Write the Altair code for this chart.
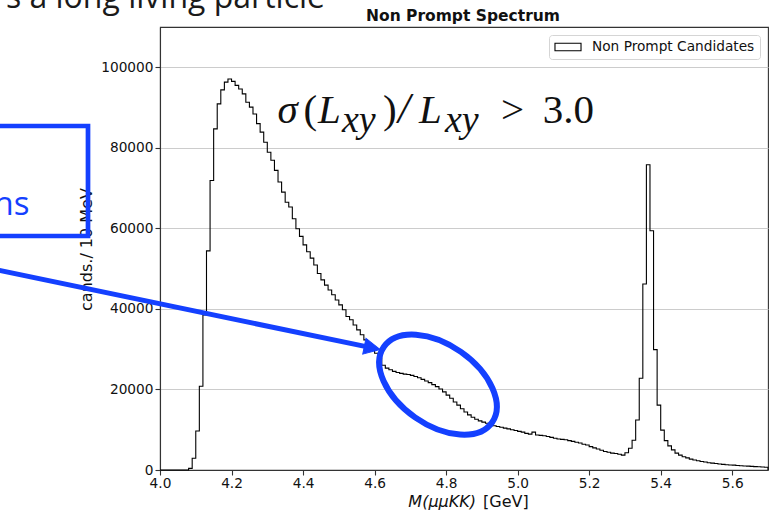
import altair as alt
import numpy as np
import pandas as pd

# ---------------- data ----------------
BIN_WIDTH = 0.01
X_MIN, X_MAX = 4.0, 5.7
SERIES = "Non Prompt Candidates"
X_TICKS = [4.0, 4.2, 4.4, 4.6, 4.8, 5.0, 5.2, 5.4, 5.6]
Y_TICKS = [0, 20000, 40000, 60000, 80000, 100000]

COUNTS_400_449 = [0, 0, 0, 0, 0, 0, 0, 0, 400, 2900,
                  9700, 20800, 38500, 54400, 71900, 84700, 90900, 94400, 96300, 97100,
                  96500, 95500, 94600, 93400, 91300, 90100, 88400, 86000, 83900, 81400,
                  78900, 76900, 74400, 71500, 69000, 66500, 65300, 62400, 59900, 58000,
                  55900, 54200, 52600, 50900, 48800, 47200, 45900, 44700, 43500, 42200]
COUNTS_450_499 = [41000, 39800, 38100, 37300, 36000, 34800, 33600, 32300, 31100, 29800,
                  29000, 27800, 26000, 25300, 24900, 24500, 24200, 24000, 23800, 23700,
                  23500, 23200, 22900, 22500, 22100, 21700, 21200, 20700, 20100, 19400,
                  18600, 17800, 16900, 16100, 15200, 14400, 13700, 13100, 12600, 12200,
                  11900, 11600, 11300, 11000, 10800, 10600, 10400, 10200, 10000, 9800]
COUNTS_500_549 = [9600, 9400, 9100, 8900, 9400, 8700, 8600, 8500, 8300, 8100,
                  7900, 7700, 7600, 7500, 7300, 7100, 6900, 6700, 6400, 6200,
                  5800, 5500, 5200, 4900, 4600, 4400, 4200, 4100, 3900, 3700,
                  4300, 5400, 7400, 12400, 22800, 46200, 75800, 59400, 29900, 16100,
                  9900, 7300, 6000, 5000, 4200, 3700, 3300, 3000, 2700, 2500]
COUNTS_550_569 = [2300, 2100, 2000, 1800, 1700, 1600, 1500, 1400, 1300, 1250,
                  1200, 1100, 1050, 1000, 950, 900, 850, 800, 750, 700]
COUNTS = COUNTS_400_449 + COUNTS_450_499 + COUNTS_500_549 + COUNTS_550_569

# ---------------- layout constants ----------------
ORIGIN_X, ORIGIN_Y = 160, 27        # top-left corner of the plot area
PLOT_W, PLOT_H = 608, 443
BLUE = "#1440ff"
INK = "#111111"

edges = np.round(X_MIN + BIN_WIDTH * np.arange(len(COUNTS)), 2)
xs = [X_MIN] + list(edges) + [X_MAX, X_MAX]
ys = [0] + COUNTS + [COUNTS[-1], 0]
hist = pd.DataFrame({"mass": xs, "cands": ys, "series": SERIES, "order": np.arange(len(xs))})

LEGEND_SYMBOL = "M -2.17 -0.63 L 2.17 -0.63 L 2.17 0.63 L -2.17 0.63 Z"
ELLIPSE = ("M 1 0 C 1 0.335 0.5523 0.606 0 0.606 C -0.5523 0.606 -1 0.335 -1 0 "
           "C -1 -0.335 -0.5523 -0.606 0 -0.606 C 0.5523 -0.606 1 -0.335 1 0 Z")
TRIANGLE = "M -1 -1 L 1 0 L -1 1 Z"

hist_line = alt.Chart(hist).mark_line(interpolate="step-after", strokeWidth=1.1).encode(
    x=alt.X("mass:Q",
            scale=alt.Scale(domain=[X_MIN, X_MAX], nice=False, zero=False),
            axis=alt.Axis(values=X_TICKS, format=".1f", title="", grid=False,
                          tickSize=5, tickWidth=1.1, tickColor="#333",
                          domainColor="#333", domainWidth=1.1,
                          labelPadding=1, labelFont="DejaVu Sans", labelFontSize=13.7,
                          labelColor=INK, labelFlush=False)),
    y=alt.Y("cands:Q",
            scale=alt.Scale(domain=[0, 110000], nice=False),
            axis=alt.Axis(values=Y_TICKS, format="d", title="cands./ 10 MeV",
                          grid=True, gridColor="#cccccc", gridWidth=1,
                          tickSize=5, tickWidth=1.1, tickColor="#333",
                          domainColor="#333", domainWidth=1.1,
                          labelPadding=2, labelFont="DejaVu Sans", labelFontSize=13.7,
                          labelColor=INK,
                          titleFont="DejaVu Sans", titleFontSize=16, titleFontWeight="normal",
                          titleColor=INK, titleX=-69, titleY=222,
                          titleBaseline="alphabetic", titleAngle=270)),
    stroke=alt.Stroke("series:N", scale=alt.Scale(range=["black"]),
                      legend=alt.Legend(title=None, orient="top-right", offset=8, padding=5,
                                        fillColor="white", strokeColor="#d5d5d5",
                                        cornerRadius=3, symbolType=LEGEND_SYMBOL,
                                        symbolSize=144, symbolStrokeWidth=1.1,
                                        symbolStrokeColor="black", symbolFillColor="white",
                                        symbolOffset=7, labelOffset=17, labelLimit=400,
                                        labelFont="DejaVu Sans", labelFontSize=13.7,
                                        labelColor=INK)),
    order="order:Q",
)


def one_row():
    return alt.Data(values=[{"k": 0}])


def txt(s, x, y, size, font, color=INK, style="normal", align="left", weight="normal"):
    return alt.Chart(one_row()).mark_text(
        text=s, font=font, fontSize=size, fontStyle=style, fontWeight=weight,
        color=color, align=align, baseline="alphabetic",
    ).encode(x=alt.value(x - ORIGIN_X), y=alt.value(y - ORIGIN_Y))


# slide decorations
box = alt.Chart(one_row()).mark_rect(fillOpacity=0, stroke=BLUE, strokeWidth=4.7).encode(
    x=alt.value(-10 - ORIGIN_X), x2=alt.value(88 - ORIGIN_X),
    y=alt.value(126 - ORIGIN_Y), y2=alt.value(236 - ORIGIN_Y))

arrow_line = alt.Chart(one_row()).mark_rule(stroke=BLUE, strokeWidth=5).encode(
    x=alt.value(-5 - ORIGIN_X), y=alt.value(269.5 - ORIGIN_Y),
    x2=alt.value(372.2 - ORIGIN_X), y2=alt.value(347.9 - ORIGIN_Y))

arrow_head = alt.Chart(one_row()).mark_point(
    shape=TRIANGLE, size=256, angle=11.7, filled=True, fill=BLUE, stroke=BLUE,
    strokeWidth=1, opacity=1).encode(
    x=alt.value(372.2 - ORIGIN_X), y=alt.value(347.9 - ORIGIN_Y))

ellipse = alt.Chart(one_row()).mark_point(
    shape=ELLIPSE, size=17424, angle=35, filled=False, stroke=BLUE,
    strokeWidth=6, opacity=1).encode(
    x=alt.value(438 - ORIGIN_X), y=alt.value(384.6 - ORIGIN_Y))

SERIF = "Liberation Serif"
texts = [
    txt("Non Prompt Spectrum", 463, 21, 15.5, "DejaVu Sans", weight="bold", align="center"),
    txt("s a long living particle", 325, 8, 32, "Open Sans", color="#1a1a1a", align="right"),
    txt("ns", 29.5, 215, 33, "Open Sans", color=BLUE, align="right"),
    # sigma(L_xy)/L_xy > 3.0
    txt("σ", 277.5, 123, 41, SERIF, style="italic"),
    txt("(", 303.5, 123, 41, SERIF),
    txt("L", 318, 123, 41, SERIF, style="italic"),
    txt("xy", 342, 132, 38, SERIF, style="italic"),
    txt(")", 383, 123, 41, SERIF),
    txt("/", 398, 123, 44, SERIF, style="italic"),
    txt("L", 419, 123, 41, SERIF, style="italic"),
    txt("xy", 445, 132, 38, SERIF, style="italic"),
    txt(">", 501, 123, 41, SERIF),
    txt("3.0", 542.7, 123, 41, SERIF),
    # x-axis title
    txt("M(μμKK)", 476, 507, 16, "DejaVu Sans", style="italic", align="right"),
    txt("[GeV]", 483, 507, 16, "DejaVu Sans"),
]

chart = alt.layer(hist_line, box, arrow_line, arrow_head, ellipse, *texts).properties(
    width=PLOT_W, height=PLOT_H,
    padding={"left": ORIGIN_X, "top": ORIGIN_Y, "right": 1, "bottom": 50},
    autosize=alt.AutoSizeParams(type="none"),
).configure_view(stroke="#333", strokeWidth=1.1)

chart.save("out.html", embed_options={"renderer": "svg", "actions": False})
